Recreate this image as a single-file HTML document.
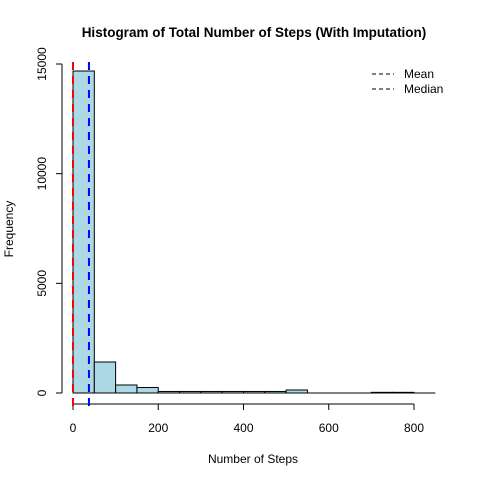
<!DOCTYPE html>
<html><head><meta charset="utf-8"><style>body{margin:0;background:#fff}svg{display:block;font-family:"Liberation Sans",Arial,sans-serif}</style></head>
<body>
<svg id="c" width="480" height="480">
<text x="254" y="37" text-anchor="middle" font-weight="bold" font-size="13.5">Histogram of Total Number of Steps (With Imputation)</text>
<text x="253" y="463" text-anchor="middle" font-size="12">Number of Steps</text>
<text transform="translate(13,229) rotate(-90)" text-anchor="middle" font-size="12">Frequency</text>
<g id="bars"></g><g id="axes"></g><g id="ref"></g>
<g>
<line x1="372" y1="74" x2="394" y2="74" stroke="#000" stroke-dasharray="4,3"/>
<text x="404" y="78" font-size="12">Mean</text>
<line x1="372" y1="89" x2="394" y2="89" stroke="#000" stroke-dasharray="4,3"/>
<text x="404" y="93" font-size="12">Median</text>
</g>
</svg>
<script>
const binStarts=[0,50,100,150,200,250,300,350,400,450,500,550,600,650,700,750,800];
const counts=[14680,1414,365,250,70,70,70,70,70,70,137,0,0,0,30,30,0];
const binWidth=50;
const xTicks=[0,200,400,600,800];
const yTicks=[0,5000,10000,15000];
const meanVal=37.4, medianVal=0;
const X=v=>73+v*(341/800), Y=v=>393-v*(329/15000);
const NS="http://www.w3.org/2000/svg";
function mk(t,a,p){const e=document.createElementNS(NS,t);for(const k in a)e.setAttribute(k,a[k]);p.appendChild(e);return e;}
const bars=document.getElementById('bars'),axes=document.getElementById('axes'),ref=document.getElementById('ref');
binStarts.forEach((b,i)=>{
 const r=mk('rect',{x:X(b),y:Y(counts[i]),width:X(b+binWidth)-X(b),height:Y(0)-Y(counts[i]),fill:'#add8e6',stroke:'#000','stroke-width':1},bars);
 
 
});
const base=mk('line',{x1:X(0),x2:X(binStarts[binStarts.length-1]+binWidth),y1:Y(0),y2:Y(0),stroke:'#000','stroke-width':1},bars);


let l=mk('line',{x1:X(0),x2:X(xTicks[xTicks.length-1]),y1:404,y2:404,stroke:'#000'},axes);

xTicks.forEach(t=>{mk('line',{x1:X(t),x2:X(t),y1:404,y2:410,stroke:'#000'},axes);
 const tx=mk('text',{x:X(t),y:432,'text-anchor':'middle','font-size':12},axes);tx.textContent=t;
 });
l=mk('line',{x1:62,x2:62,y1:Y(0),y2:Y(yTicks[yTicks.length-1]),stroke:'#000'},axes);

yTicks.forEach(t=>{mk('line',{x1:56,x2:62,y1:Y(t),y2:Y(t),stroke:'#000'},axes);
 const tx=mk('text',{transform:`translate(46,${Y(t)}) rotate(-90)`,'text-anchor':'middle','font-size':12},axes);tx.textContent=t;
 });
[[medianVal,'red','median-line'],[meanVal,'blue','mean-line']].forEach(([v,c,n])=>{
 const e=mk('line',{x1:X(v),x2:X(v),y1:62,y2:410,stroke:c,'stroke-width':2,'stroke-dasharray':'8,6'},ref);
 });
</script>
</body></html>
